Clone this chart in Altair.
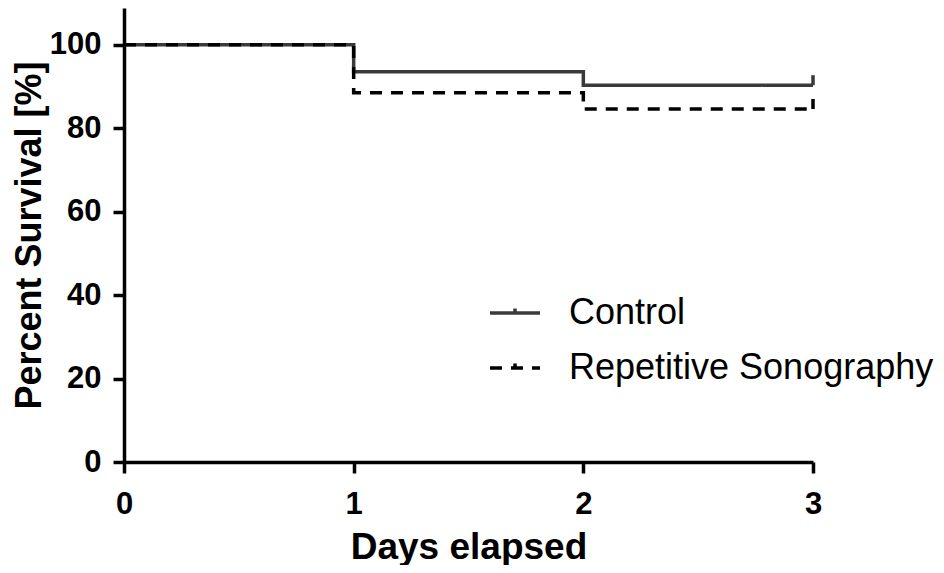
import altair as alt
import pandas as pd

groups = ["Control", "Repetitive Sonography"]
days = [0, 1, 2, 3]
control = [100, 93.5, 90.3, 90.3]
repetitive = [100, 88.5, 84.6, 84.6]
censor_len = 2.4

rows = []
for g, vals in zip(groups, [control, repetitive]):
    for d, v in zip(days, vals):
        rows.append({"group": g, "day": d, "surv": v})
df = pd.DataFrame(rows)

cens = pd.DataFrame({
    "group": groups,
    "day": [days[-1], days[-1]],
    "surv": [control[-1], repetitive[-1]],
    "top": [control[-1] + censor_len, repetitive[-1] + censor_len],
})

FONT = "Liberation Sans"

xscale = alt.Scale(domain=[0, 3], nice=False, zero=False)
yscale = alt.Scale(domain=[0, 108.8], nice=False)
color_scale = alt.Scale(domain=groups, range=["#3a3a3a", "#000000"])
dash_scale = alt.Scale(domain=groups, range=[[1, 0], [12, 9]])

lines = alt.Chart(df).mark_line(interpolate="step-after", strokeWidth=3.5).encode(
    x=alt.X("day:Q", scale=xscale,
            axis=alt.Axis(values=[0, 1, 2, 3], format="d", title="Days elapsed")),
    y=alt.Y("surv:Q", scale=yscale,
            axis=alt.Axis(values=[0, 20, 40, 60, 80, 100], title="Percent Survival [%]")),
    color=alt.Color("group:N", scale=color_scale,
                    legend=alt.Legend(title=None, orient="none", legendX=364, legendY=278,
                                      symbolType="M-1,0H1M0,0V-0.18",
                                      symbolSize=2500, symbolStrokeWidth=3.5,
                                      labelFont=FONT, labelFontSize=36, labelColor="black",
                                      labelOffset=27, rowPadding=10, labelLimit=500)),
    strokeDash=alt.StrokeDash("group:N", scale=dash_scale, legend=None),
)

ticks = alt.Chart(cens).mark_rule(strokeWidth=3.5).encode(
    x=alt.X("day:Q", scale=xscale),
    y=alt.Y("surv:Q", scale=yscale),
    y2="top:Q",
    color=alt.Color("group:N", scale=color_scale, legend=None),
)

chart = alt.layer(lines, ticks).properties(
    width=689, height=454,
    autosize=alt.AutoSizeParams(type="none"),
    padding={"left": 116, "top": 0, "right": 123, "bottom": 103},
).configure_view(stroke=None).configure_axis(
    domainColor="black", domainWidth=3.5, tickColor="black", tickWidth=3.5, tickSize=11,
    grid=False, labelFont=FONT, labelFontSize=31, labelFontWeight="bold", labelColor="black",
    titleFont=FONT, titleFontWeight="bold", titleColor="black", labelFlush=False,
).configure_axisX(
    labelPadding=16, titleFontSize=37, titlePadding=10,
).configure_axisY(
    labelPadding=12, titleFontSize=36, titlePadding=1,
)

chart.save("out.html", embed_options={"renderer": "svg", "actions": False})
